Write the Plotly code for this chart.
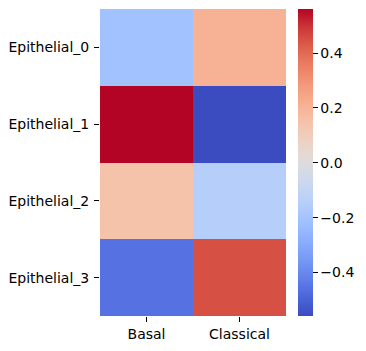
import plotly.graph_objects as go

rows = ["Epithelial_0", "Epithelial_1", "Epithelial_2", "Epithelial_3"]
cols = ["Basal", "Classical"]
basal = [-0.21, 0.561, 0.15, -0.46]
classical = [0.21, -0.559, -0.145, 0.45]
cbar_ticks = [-0.4, -0.2, 0.0, 0.2, 0.4]
cbar_text = ["\u22120.4", "\u22120.2", "0.0", "0.2", "0.4"]

z = [[b, c] for b, c in zip(basal, classical)]
allv = basal + classical

coolwarm = [
    (59, 76, 192), (76, 101, 220), (98, 130, 234), (120, 154, 246),
    (141, 176, 254), (162, 194, 255), (184, 208, 249), (203, 216, 238),
    (221, 220, 220), (236, 211, 197), (245, 196, 173), (247, 177, 148),
    (244, 154, 123), (235, 128, 99), (222, 96, 77), (204, 57, 56),
    (180, 4, 38),
]
n = len(coolwarm) - 1
colorscale = [[i / n, "rgb(%d,%d,%d)" % c] for i, c in enumerate(coolwarm)]

fig = go.Figure(go.Heatmap(
    z=z, x=cols, y=rows,
    zmin=min(allv), zmax=max(allv),
    colorscale=colorscale,
    xgap=0, ygap=0,
    colorbar=dict(
        x=1.0645, xanchor="left", xpad=0, ypad=0,
        y=1, yanchor="top", len=1, lenmode="fraction",
        thickness=15, outlinewidth=0,
        tickvals=cbar_ticks, ticktext=cbar_text,
        ticks="outside", ticklen=5, tickwidth=1, tickcolor="black",
        tickfont=dict(family="DejaVu Sans", size=14, color="black"),
    ),
))

fig.update_layout(
    width=366, height=351,
    margin=dict(l=100, r=80, t=9, b=35),
    paper_bgcolor="white", plot_bgcolor="white",
    font=dict(family="DejaVu Sans", size=14, color="black"),
)
fig.update_xaxes(ticks="outside", ticklen=5, tickcolor="black", showgrid=False,
                 zeroline=False, showline=False)
fig.update_yaxes(ticks="outside", ticklen=5, tickcolor="black", showgrid=False,
                 zeroline=False, showline=False, autorange="reversed",
                 ticklabelstandoff=2)

fig.write_html("out.html")
